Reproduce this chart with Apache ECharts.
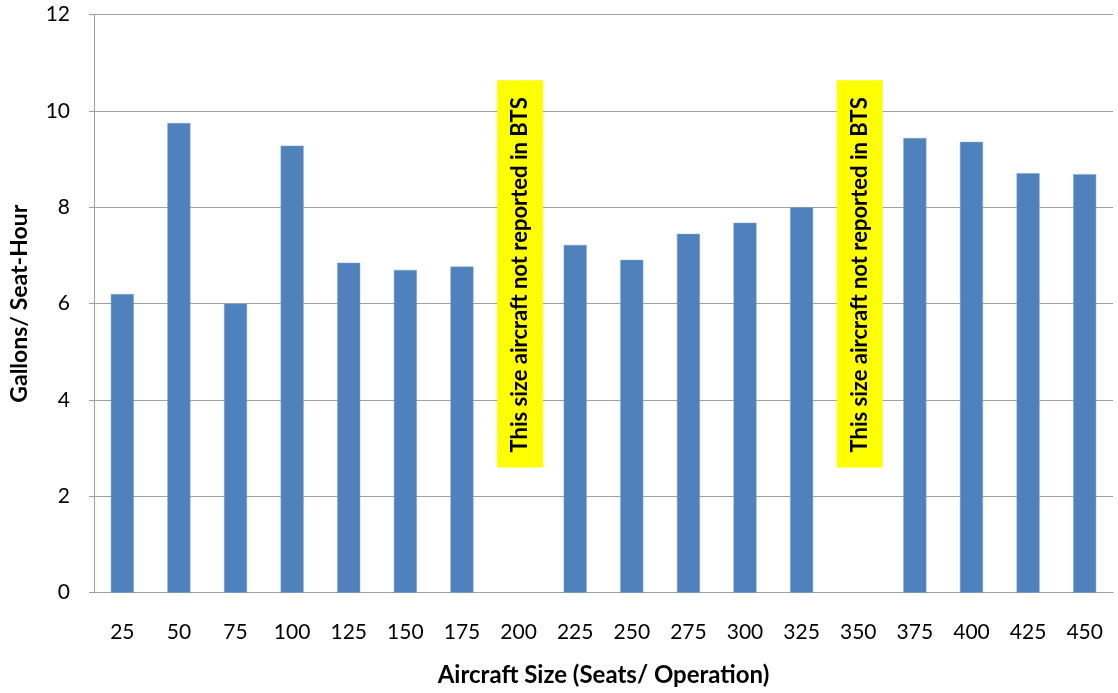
<!DOCTYPE html>
<html>
<head>
<meta charset="utf-8">
<script src="https://cdn.jsdelivr.net/npm/echarts@6/dist/echarts.min.js"></script>
<style>
  html, body { margin: 0; padding: 0; background: #fff; }
  #chart { width: 1118px; height: 693px; }
</style>
</head>
<body>
<div id="chart"></div>
<script>
// Aircraft size classes (seats per operation)
const sizes = ['25', '50', '75', '100', '125', '150', '175', '200', '225',
               '250', '275', '300', '325', '350', '375', '400', '425', '450'];
// Fuel use in gallons per seat-hour; null where no data exists
const gallonsPerSeatHour = [6.2, 9.75, 6.0, 9.28, 6.85, 6.7, 6.77, null, 7.22,
                            6.91, 7.45, 7.68, 8.0, null, 9.44, 9.36, 8.71, 8.69];
// Size classes with no BTS data, shown as highlighted notes
const missingSizes = ['200', '350'];
const noteLow = 2.6;
const noteHigh = 10.64;
const noteText = 'This size aircraft not reported in BTS';
// Value axis ticks
const yTicks = { min: 0, max: 12, interval: 2 };

const FONT = 'Lato, "Open Sans", sans-serif';
const chart = echarts.init(document.getElementById('chart'), null, { renderer: 'canvas' });

chart.setOption({
  animation: false,
  backgroundColor: '#ffffff',
  grid: { left: 94, right: 5, top: 14.7, bottom: 100.3, containLabel: false },
  xAxis: {
    type: 'category',
    data: sizes,
    name: 'Aircraft Size (Seats/ Operation)',
    nameLocation: 'middle',
    nameGap: 71,
    nameTextStyle: { fontFamily: FONT, fontSize: 24, fontWeight: 'bold', color: '#000' },
    axisLine: { show: true, lineStyle: { color: '#a0a0a0', width: 1 } },
    axisTick: { show: false },
    axisLabel: { fontFamily: FONT, fontSize: 21, color: '#000', margin: 29 },
    splitLine: { show: false }
  },
  yAxis: {
    type: 'value',
    min: yTicks.min,
    max: yTicks.max,
    interval: yTicks.interval,
    name: 'Gallons/ Seat-Hour',
    nameLocation: 'middle',
    nameGap: 63,
    nameTextStyle: { fontFamily: FONT, fontSize: 23, fontWeight: 'bold', color: '#000' },
    axisLine: { show: true, lineStyle: { color: '#a0a0a0', width: 1 } },
    axisTick: { show: true, inside: false, length: 5, lineStyle: { color: '#a0a0a0' } },
    axisLabel: { fontFamily: FONT, fontSize: 21, color: '#000', margin: 24 },
    splitLine: { show: true, lineStyle: { color: '#a0a0a0', width: 1 } }
  },
  series: [
    {
      type: 'bar',
      data: gallonsPerSeatHour,
      barWidth: 23,
      itemStyle: { color: '#4f81bd', borderColor: '#7aa0d0', borderWidth: 0.5 }
    },
    {
      type: 'custom',
      data: missingSizes.map(s => [s, noteLow, noteHigh]),
      encode: { x: 0, y: [1, 2] },
      z: 5,
      renderItem: function (params, api) {
        const bottom = api.coord([api.value(0), api.value(1)]);
        const top = api.coord([api.value(0), api.value(2)]);
        const w = 46;
        const cx = bottom[0] + 1.5;
        return {
          type: 'group',
          children: [
            {
              type: 'rect',
              shape: { x: cx - w / 2, y: top[1], width: w, height: bottom[1] - top[1] },
              style: { fill: '#ffff00' }
            },
            {
              type: 'text',
              x: cx,
              y: (top[1] + bottom[1]) / 2 + 1,
              rotation: Math.PI / 2,
              style: {
                text: noteText,
                fontFamily: FONT,
                fontSize: 22,
                fontWeight: 'bold',
                fill: '#000',
                align: 'center',
                verticalAlign: 'middle'
              }
            }
          ]
        };
      }
    }
  ]
});
</script>
</body>
</html>
